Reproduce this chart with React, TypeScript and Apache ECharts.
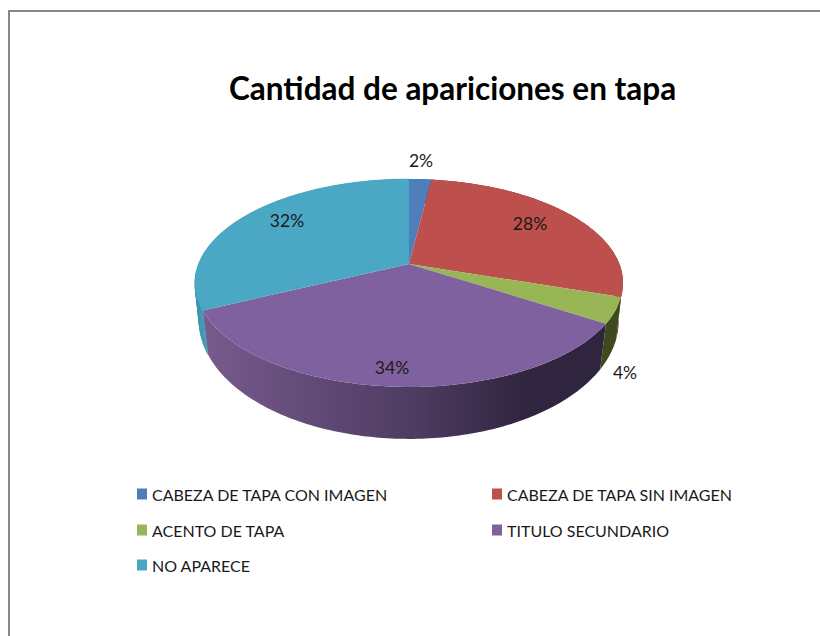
import React, { useEffect, useRef } from "react";
import * as echarts from "echarts";

const categories = [
  "CABEZA DE TAPA CON IMAGEN",
  "CABEZA DE TAPA SIN IMAGEN",
  "ACENTO DE TAPA",
  "TITULO SECUNDARIO",
  "NO APARECE",
];
const shares = [2, 28, 4, 34, 32];
const titleText = "Cantidad de apariciones en tapa";

const faceColors = ["#4f7fba", "#bd4f4c", "#98b655", "#7f61a0", "#4aa8c4"];
const wallColors = ["#2e4a70", "#70302e", "#3e4a1e", "#4c3a5f", "#3f97b0"];
const purpleWallStops = ["#775b8e", "#4c3a5f", "#30253f"];
const labelCenters: [number, number][] = [
  [421, 160],
  [530, 223],
  [625, 372],
  [392, 367],
  [287, 220],
];
const legendSpots: [number, number][] = [
  [137, 486],
  [492, 486],
  [137, 522],
  [492, 522],
  [137, 557],
];

const FONT = "Lato, Carlito, sans-serif";
const total = shares.reduce((a, b) => a + b, 0);
const startOf = (i: number) => shares.slice(0, i).reduce((a, b) => a + b, 0) / total;

// Perspective projection of the disc: circle angle (clockwise from 12 o'clock) to the page.
const topPlane = { cx: 409, cy: 264, A: 210.4, B: 100.5, k: 0.1827 };
const basePlane = { cx: 409, cy: 302, A: 207, B: 115, k: 0.16 };
const project = (p: typeof topPlane, turn: number): number[] => {
  const th = turn * Math.PI * 2;
  const u = Math.sin(th);
  const v = -Math.cos(th);
  const d = 1 - p.k * v;
  return [p.cx + (p.A * u) / d, p.cy + (p.B * v) / d];
};
const arc = (p: typeof topPlane, a: number, b: number): number[][] => {
  const n = Math.max(2, Math.ceil(Math.abs(b - a) * 360));
  const pts: number[][] = [];
  for (let i = 0; i <= n; i++) pts.push(project(p, a + ((b - a) * i) / n));
  return pts;
};

export default function App() {
  const ref = useRef<HTMLDivElement>(null);
  useEffect(() => {
    if (!ref.current) return;
    const chart = echarts.init(ref.current, undefined, { renderer: "svg" });

    const wallSeries: any = {
      type: "custom",
      name: "walls",
      coordinateSystem: "none",
      silent: true,
      z: 1,
      data: shares.map((v) => [v]),
      renderItem: (params: any, api: any) => {
        const i = params.dataIndex;
        const a = startOf(i);
        const b = a + api.value(0) / total;
        const topArc = arc(topPlane, a, b);
        const baseArc = arc(basePlane, a, b);
        if (i === 4) {
          // The left wall: a ruled strip between both rims, so that the silhouette is straight.
          const children: any[] = [];
          for (let s = 0; s < topArc.length - 1; s++) {
            children.push({
              type: "polygon",
              shape: { points: [topArc[s], topArc[s + 1], baseArc[s + 1], baseArc[s]] },
              style: { fill: wallColors[i], stroke: wallColors[i], lineWidth: 0.5 },
            });
          }
          return { type: "group", children };
        }
        return {
          type: "polygon",
          shape: { points: [...topArc, ...baseArc.slice().reverse()] },
          style: {
            fill:
              i === 3
                ? new echarts.graphic.LinearGradient(0, 0, 1, 0, [
                    { offset: 0, color: purpleWallStops[0] },
                    { offset: 0.55, color: purpleWallStops[1] },
                    { offset: 0.8, color: purpleWallStops[2] },
                    { offset: 1, color: purpleWallStops[2] },
                  ])
                : wallColors[i],
          },
        };
      },
    };

    const faceSeries: any[] = categories.map((name, i) => ({
      type: "custom",
      name,
      coordinateSystem: "none",
      silent: true,
      z: 2,
      itemStyle: { color: faceColors[i] },
      data: [[shares[i]]],
      renderItem: (_p: any, api: any) => {
        const a = startOf(i);
        const b = a + api.value(0) / total;
        const pts = [[topPlane.cx, topPlane.cy], ...arc(topPlane, a, b)];
        return { type: "polygon", shape: { points: pts }, style: { fill: faceColors[i] } };
      },
    }));

    const labelSeries: any = {
      type: "custom",
      name: "labels",
      coordinateSystem: "none",
      silent: true,
      z: 3,
      data: shares.map((v) => [v]),
      renderItem: (params: any, api: any) => {
        const i = params.dataIndex;
        return {
          type: "text",
          x: labelCenters[i][0],
          y: labelCenters[i][1],
          style: {
            text: `${api.value(0)}%`,
            fill: "#1a1a1a",
            font: `17.5px ${FONT}`,
            align: "center",
            verticalAlign: "middle",
          },
        };
      },
    };

    chart.setOption({
      animation: false,
      backgroundColor: "#ffffff",
      title: {
        text: titleText,
        left: 224,
        top: 67,
        textStyle: { fontFamily: FONT, fontWeight: "bold", fontSize: 31.5, color: "#000000" },
      },
      legend: categories.map((name, i) => ({
        data: [name],
        left: legendSpots[i][0],
        top: legendSpots[i][1],
        padding: 0,
        icon: "rect",
        itemWidth: 10,
        itemHeight: 11,
        itemGap: 0,
        selectedMode: false,
        textStyle: { fontFamily: FONT, fontSize: 16, color: "#1a1a1a", padding: [0, 0, 0, 0] },
      })),
      graphic: [
        {
          type: "polyline",
          silent: true,
          shape: { points: [[9, 636], [9, 11], [820, 11]] },
          style: { stroke: "#868686", lineWidth: 2, fill: "none" },
        },
      ],
      series: [wallSeries, ...faceSeries, labelSeries],
    });
    return () => chart.dispose();
  }, []);
  return (
    <div
      ref={ref}
      style={{ position: "absolute", left: 0, top: 0, width: 820, height: 636 }}
    />
  );
}
